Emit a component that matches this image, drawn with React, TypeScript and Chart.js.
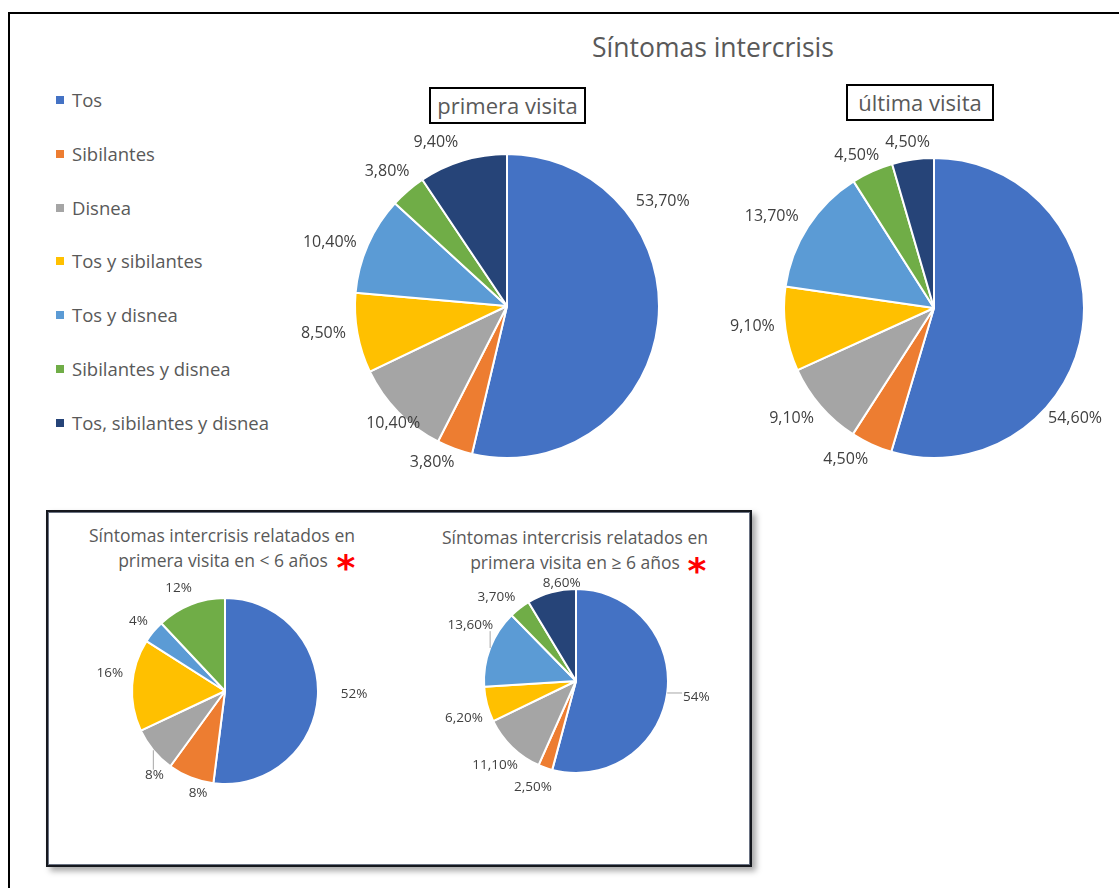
import React, { useEffect, useRef } from "react";
import { Chart, registerables } from "chart.js";

Chart.register(...registerables);

const categories = [
  "Tos",
  "Sibilantes",
  "Disnea",
  "Tos y sibilantes",
  "Tos y disnea",
  "Sibilantes y disnea",
  "Tos, sibilantes y disnea",
];
const colors = ["#4472C4", "#ED7D31", "#A5A5A5", "#FFC000", "#5B9BD5", "#70AD47", "#264478"];

const primeraVisita = [53.7, 3.8, 10.4, 8.5, 10.4, 3.8, 9.4];
const primeraLabels = ["53,70%", "3,80%", "10,40%", "8,50%", "10,40%", "3,80%", "9,40%"];

const ultimaVisita = [54.6, 4.5, 9.1, 9.1, 13.7, 4.5, 4.5];
const ultimaLabels = ["54,60%", "4,50%", "9,10%", "9,10%", "13,70%", "4,50%", "4,50%"];

const menores6 = [52, 8, 8, 16, 4, 12];
const menores6Labels = ["52%", "8%", "8%", "16%", "4%", "12%"];

const mayores6 = [54, 2.5, 11.1, 6.2, 13.6, 3.7, 8.6];
const mayores6Labels = ["54%", "2,50%", "11,10%", "6,20%", "13,60%", "3,70%", "8,60%"];

const FONT = '"Open Sans", "Noto Sans", sans-serif';
const TEXT = "#595959";

const labelPlugin = {
  id: "outLabels",
  afterDatasetsDraw(chart: any, _args: any, opts: any) {
    const { ctx } = chart;
    const meta = chart.getDatasetMeta(0);
    ctx.save();
    ctx.font = `${opts.size}px ${FONT}`;
    ctx.fillStyle = "#404040";
    ctx.textAlign = "center";
    ctx.textBaseline = "middle";
    meta.data.forEach((arc: any, i: number) => {
      const { x, y, startAngle, endAngle, outerRadius } = arc.getProps(
        ["x", "y", "startAngle", "endAngle", "outerRadius"],
        true
      );
      const mid = (startAngle + endAngle) / 2;
      const dx = Math.cos(mid);
      const dy = Math.sin(mid);
      const text = opts.labels[i];
      const w = ctx.measureText(text).width;
      const h = opts.size;
      const nudge = (opts.nudges && opts.nudges[i]) || [0, 0];
      const lx = x + dx * (outerRadius + opts.pad) + (dx * w) / 2 + nudge[0];
      const ly = y + dy * (outerRadius + opts.pad) + (dy * h) / 2 + nudge[1];
      if (opts.leaders && opts.leaders[i]) {
        const ex = x + dx * outerRadius;
        const ey = y + dy * outerRadius;
        const bx = Math.max(lx - w / 2 - 1, Math.min(ex, lx + w / 2 + 1));
        const by = Math.max(ly - h / 2 + 1, Math.min(ey, ly + h / 2 - 1));
        ctx.strokeStyle = "#a6a6a6";
        ctx.lineWidth = 1;
        ctx.beginPath();
        ctx.moveTo(ex, ey);
        ctx.lineTo(bx, by);
        ctx.stroke();
      }
      ctx.fillText(text, lx, ly);
    });
    ctx.restore();
  },
};

type PieProps = {
  data: number[];
  labels: string[];
  left: number;
  top: number;
  width: number;
  height: number;
  radius: number;
  fontSize: number;
  pad: number;
  nudges: number[][];
  leaders?: boolean[];
};

function Pie(p: PieProps) {
  const ref = useRef<HTMLCanvasElement>(null);
  useEffect(() => {
    const chart = new Chart(ref.current as HTMLCanvasElement, {
      type: "pie",
      data: {
        labels: categories.slice(0, p.data.length),
        datasets: [
          {
            data: p.data,
            backgroundColor: colors.slice(0, p.data.length),
            borderColor: "#ffffff",
            borderWidth: 2,
            radius: p.radius,
            hoverOffset: 0,
            offset: 0,
          } as any,
        ],
      },
      options: {
        responsive: false,
        animation: false,
        events: [],
        layout: { padding: 0 },
        plugins: {
          legend: { display: false },
          tooltip: { enabled: false },
          outLabels: {
            labels: p.labels,
            size: p.fontSize,
            pad: p.pad,
            nudges: p.nudges,
            leaders: p.leaders,
          },
        } as any,
      },
      plugins: [labelPlugin as any],
    });
    return () => chart.destroy();
  }, []);
  return (
    <canvas
      ref={ref}
      width={p.width}
      height={p.height}
      style={{ position: "absolute", left: p.left, top: p.top, width: p.width, height: p.height }}
    />
  );
}

function CenterText(props: { cx: number; cy: number; size: number; text: string; color?: string }) {
  return (
    <div
      style={{
        position: "absolute",
        left: props.cx - 300,
        top: props.cy - props.size,
        width: 600,
        height: props.size * 2,
        lineHeight: `${props.size * 2}px`,
        textAlign: "center",
        fontSize: props.size,
        fontFamily: FONT,
        color: props.color || TEXT,
        whiteSpace: "nowrap",
      }}
    >
      {props.text}
    </div>
  );
}

function Asterisk(props: { cx: number; cy: number }) {
  return (
    <div
      style={{
        position: "absolute",
        left: props.cx - 20,
        top: props.cy - 12,
        width: 40,
        height: 40,
        lineHeight: "40px",
        textAlign: "center",
        fontSize: 36,
        fontWeight: "bold",
        fontFamily: '"DejaVu Sans", sans-serif',
        color: "#FF0000",
      }}
    >
      *
    </div>
  );
}

export default function App() {
  return (
    <div
      style={{
        position: "fixed",
        left: 0,
        top: 0,
        width: 1119,
        height: 888,
        overflow: "hidden",
        background: "#ffffff",
      }}
    >
      {/* outer frame */}
      <div
        style={{
          position: "absolute",
          left: 8,
          top: 12,
          width: 1300,
          height: 1000,
          borderTop: "2px solid #000",
          borderLeft: "2px solid #000",
        }}
      />

      <CenterText cx={713} cy={47} size={26.5} text="Síntomas intercrisis" />

      {/* legend */}
      {categories.map((c, i) => (
        <div
          key={c}
          style={{
            position: "absolute",
            left: 56,
            top: 100 + i * 53.8 - 14,
            height: 28,
            lineHeight: "28px",
            fontSize: 18.5,
            fontFamily: FONT,
            color: TEXT,
            whiteSpace: "nowrap",
            display: "flex",
            alignItems: "center",
          }}
        >
          <span style={{ display: "inline-block", width: 8, height: 8, background: colors[i], marginRight: 8 }} />
          {c}
        </div>
      ))}

      {/* sub-title boxes */}
      <div
        style={{
          position: "absolute",
          left: 429,
          top: 87,
          width: 157,
          height: 37,
          boxSizing: "border-box",
          border: "2px solid #000",
          textAlign: "center",
          lineHeight: "32px",
          fontSize: 22,
          fontFamily: FONT,
          color: TEXT,
          whiteSpace: "nowrap",
        }}
      >
        primera visita
      </div>
      <div
        style={{
          position: "absolute",
          left: 846,
          top: 84,
          width: 148,
          height: 37,
          boxSizing: "border-box",
          border: "2px solid #000",
          textAlign: "center",
          lineHeight: "32px",
          fontSize: 22,
          fontFamily: FONT,
          color: TEXT,
          whiteSpace: "nowrap",
        }}
      >
        última visita
      </div>

      <Pie
        data={primeraVisita}
        labels={primeraLabels}
        left={507 - 215}
        top={306 - 180}
        width={430}
        height={360}
        radius={152}
        fontSize={16}
        pad={8}
        nudges={[[-30, -124], [-12, -1], [20, 0], [-4, -2], [-6, 4], [-1, -7], [-18, -3]]}
        leaders={[false, false, false, false, false, false, false]}
      />
      <Pie
        data={ultimaVisita}
        labels={ultimaLabels}
        left={934 - 205}
        top={308 - 180}
        width={410}
        height={360}
        radius={150}
        fontSize={16}
        pad={8}
        nudges={[[-42, 87], [-13, 1], [-6, 2], [-3, -5], [-7, -1], [-3, -1], [-1, -1]]}
        leaders={[false, false, false, false, false, false, false]}
      />

      {/* inset box */}
      <div
        style={{
          position: "absolute",
          left: 46,
          top: 510,
          width: 706,
          height: 357,
          boxSizing: "border-box",
          border: "2px solid #15181e",
          boxShadow: "inset 0 0 0 1px #6a7282, 4px 4px 6px rgba(0,0,0,0.35)",
          background: "#fff",
        }}
      />

      <CenterText cx={222} cy={535} size={17.5} text="Síntomas intercrisis relatados en" />
      <CenterText cx={223} cy={560} size={17.5} text="primera visita en < 6 años" />
      <Asterisk cx={346} cy={560} />
      <CenterText cx={575} cy={537} size={17.5} text="Síntomas intercrisis relatados en" />
      <CenterText cx={575} cy={562} size={17.5} text="primera visita en ≥ 6 años" />
      <Asterisk cx={697} cy={563} />

      <Pie
        data={menores6}
        labels={menores6Labels}
        left={225 - 145}
        top={691 - 115}
        width={290}
        height={230}
        radius={93}
        fontSize={13.5}
        pad={6}
        nudges={[[17, -3], [13, 4], [13, 17], [-3, -11], [-3, -2], [-5, -5]]}
        leaders={[false, false, true, false, false, false]}
      />
      <Pie
        data={mayores6}
        labels={mayores6Labels}
        left={576 - 140}
        top={681 - 120}
        width={280}
        height={240}
        radius={92}
        fontSize={13.5}
        pad={6}
        nudges={[[10, 2], [-4, 7], [3, 9], [1, 11], [7, -18], [-8, -1], [17, 3]]}
        leaders={[true, false, false, false, true, false, false]}
      />
    </div>
  );
}
